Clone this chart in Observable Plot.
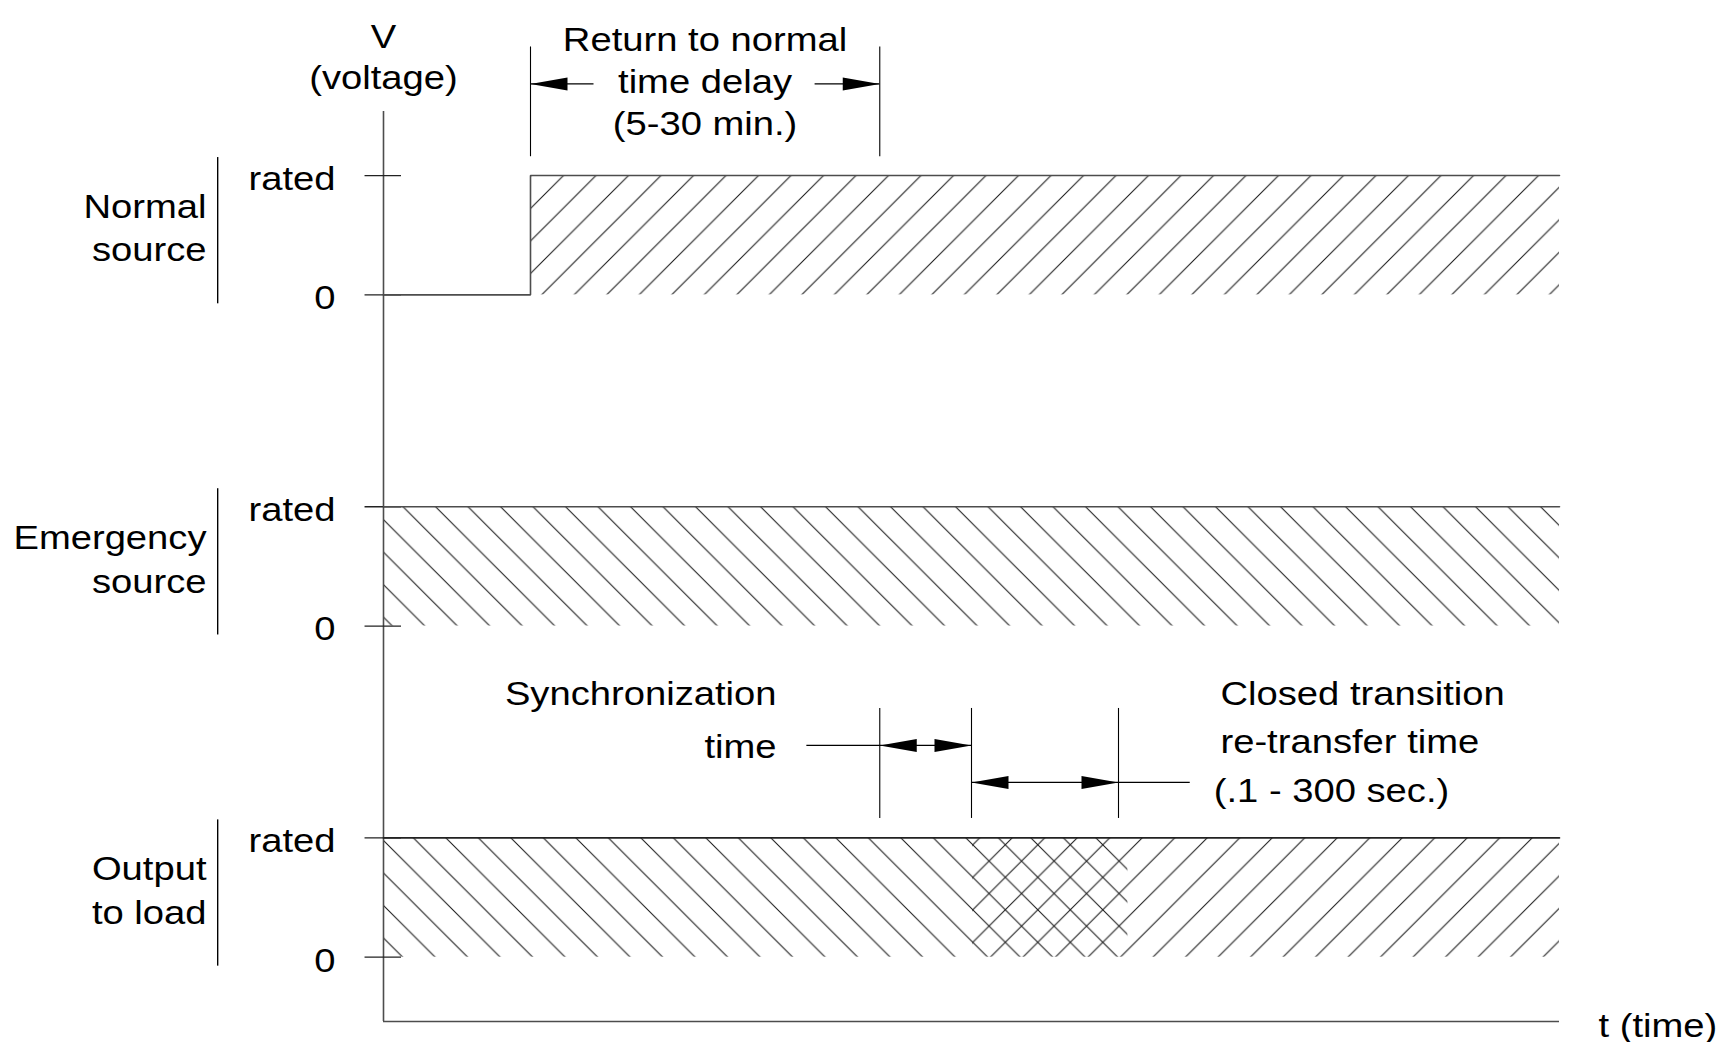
<!DOCTYPE html>
<html>
<head>
<meta charset="utf-8">
<script src="https://cdn.jsdelivr.net/npm/d3@7"></script>
<script src="https://cdn.jsdelivr.net/npm/@observablehq/plot@0.6"></script>
<style>
  html, body { margin: 0; padding: 0; background: #fff; overflow: hidden; }
  #chart svg { display: block; }
</style>
</head>
<body>
<div id="chart"></div>
<script>
// ---------------- data ----------------
const panelNames = ["Normal\nsource", "Emergency\nsource", "Output\nto load"];
const levelValues = [0, 1];            // 0 = zero volts, 1 = rated
const levelLabels = ["0", "rated"];
const voltageAxisLabel = ["V", "(voltage)"];
const timeAxisLabel = "t (time)";

// traces (time in schematic units 0–100, level 0/1)
const normalTraceT = [0, 12.5, 12.5, 100];
const normalTraceV = [0, 0, 1, 1];
const emergencyTraceT = [0, 100];
const emergencyTraceV = [1, 1];
const outputTraceT = [0, 100];
const outputTraceV = [1, 1];

// energized (hatched) intervals
const hatchPanel = [0, 1, 2, 2];
const hatchStart = [12.5, 0, 0, 50.1];
const hatchEnd = [100, 100, 63.3, 100];
const hatchDir = ["/", "\\", "\\", "/"];

// timing events
const returnDelay = [12.5, 42.2];
const syncTime = [42.2, 50];
const closedTransition = [50, 62.5];
const returnText = ["Return to normal", "time delay", "(5-30 min.)"];
const syncText = ["Synchronization", "time"];
const closedText = ["Closed transition", "re-transfer time", "(.1 - 300 sec.)"];

// ---------------- layout ----------------
const W = 1724, H = 1042;
const X_DOMAIN = [0, 100];
const Y_DOMAIN = [-0.539, 7.089];
const PANEL_GAP = 2.776;
const base = p => (2 - p) * PANEL_GAP;
const FONT = "'Liberation Sans', Arial, Helvetica, sans-serif";
const FS = 33.5;
const STRETCH = 1.14;
const TICK = [-1.57, 1.53];
const LABEL_X = -4.08;
const GROUP_X = -15.05;
const BRACKET_X = -14.1;
const HATCH_SIZE = 32.5;
const hatchPhase = [24, 26.3, 30.5, 30.1];
const HEAD_LEN = 37, HEAD_HALF = 6.5;

const headRight = { draw(ctx) { ctx.moveTo(0, 0); ctx.lineTo(-HEAD_LEN, -HEAD_HALF); ctx.lineTo(-HEAD_LEN, HEAD_HALF); ctx.closePath(); } };
const headLeft  = { draw(ctx) { ctx.moveTo(0, 0); ctx.lineTo(HEAD_LEN, -HEAD_HALF); ctx.lineTo(HEAD_LEN, HEAD_HALF); ctx.closePath(); } };

// ---------------- derived tables ----------------
const hatchRects = hatchPanel.map((p, i) => ({
  x1: hatchStart[i], x2: hatchEnd[i], y1: base(p), y2: base(p) + 1, fill: `url(#hatch${i})`
}));
const traceRows = (T, V, p) => T.map((t, i) => ({ t, v: base(p) + V[i] }));
const ticks = panelNames.flatMap((_, p) => levelValues.map(l => ({ v: base(p) + l })));
const levelText = panelNames.flatMap((_, p) => levelValues.map((l, j) => ({ v: base(p) + l - 0.12, text: levelLabels[j] })));
const groupText = panelNames.map((name, p) => ({ v: base(p) + 0.28, text: name }));
const brackets = panelNames.map((_, p) => ({ y1: base(p) - 0.075, y2: base(p) + 1.151 }));

// annotation rows
const RET_ROW = 7.32, SYNC_ROW = 1.775, CLOSED_ROW = 1.465;
const dimLines = [
  ...returnDelay.map(t => ({ t, y1: 6.71, y2: 7.63 })),
  ...[syncTime[0], syncTime[1], closedTransition[1]].map(t => ({ t, y1: 1.163, y2: 2.085 }))
];
const arrowLines = [
  { y: RET_ROW, x1: returnDelay[0], x2: 17.9 },
  { y: RET_ROW, x1: 36.7, x2: returnDelay[1] },
  { y: SYNC_ROW, x1: 36.0, x2: syncTime[1] },
  { y: CLOSED_ROW, x1: closedTransition[0], x2: 68.6 }
];
const leftHeads = [
  { t: returnDelay[0], y: RET_ROW },
  { t: syncTime[0], y: SYNC_ROW },
  { t: closedTransition[0], y: CLOSED_ROW }
];
const rightHeads = [
  { t: returnDelay[1], y: RET_ROW },
  { t: syncTime[1], y: SYNC_ROW },
  { t: closedTransition[1], y: CLOSED_ROW }
];

const retTextRows = returnText.map((text, i) => ({ x: 27.34, y: [7.597, 7.244, 6.888][i], text }));
const vTextRows = voltageAxisLabel.map((text, i) => ({ x: 0, y: [7.625, 7.28][i], text }));
const syncTextRows = syncText.map((text, i) => ({ x: 33.42, y: [2.11, 1.666][i], text }));
const closedTextRows = closedText.map((text, i) => ({ x: [71.17, 71.17, 70.6][i], y: [2.11, 1.708, 1.299][i], text }));
const tTextRows = [{ x: 103.32, y: -0.673, text: timeAxisLabel }];

const AX = "#4d4d4d", LN = "#222";
const txt = (data, anchor, extra = {}) => Plot.text(data, {
  x: "x", y: "y", text: "text", textAnchor: anchor, lineAnchor: "bottom",
  fontSize: FS, fontFamily: FONT, fill: "#000", ...extra
});

const plot = Plot.plot({
  width: W, height: H,
  marginLeft: 383, marginRight: W - 1559, marginTop: 111, marginBottom: H - 1021,
  x: { domain: X_DOMAIN, axis: null },
  y: { domain: Y_DOMAIN, axis: null },
  style: { fontFamily: FONT, background: "#fff", overflow: "visible" },
  marks: [
    ...hatchRects.map(r => Plot.rect([r], { x1: "x1", x2: "x2", y1: "y1", y2: "y2", fill: r.fill, stroke: "none" })),
    // axes
    Plot.ruleX([X_DOMAIN[0]], { y1: Y_DOMAIN[0], y2: Y_DOMAIN[1], stroke: AX, strokeWidth: 1.6 }),
    Plot.ruleY([Y_DOMAIN[0]], { x1: X_DOMAIN[0], x2: X_DOMAIN[1], stroke: AX, strokeWidth: 1.6 }),
    // level ticks
    Plot.ruleY(ticks, { y: "v", x1: TICK[0], x2: TICK[1], stroke: LN, strokeWidth: 1.3 }),
    // traces
    Plot.line(traceRows(normalTraceT, normalTraceV, 0), { x: "t", y: "v", stroke: AX, strokeWidth: 1.6, strokeLinejoin: "miter" }),
    Plot.line(traceRows(emergencyTraceT, emergencyTraceV, 1), { x: "t", y: "v", stroke: AX, strokeWidth: 1.6 }),
    Plot.line(traceRows(outputTraceT, outputTraceV, 2), { x: "t", y: "v", stroke: LN, strokeWidth: 1.6 }),
    // brackets
    Plot.ruleX(brackets, { x: () => BRACKET_X, y1: "y1", y2: "y2", stroke: "#000", strokeWidth: 1.4 }),
    // dimension lines and arrows
    Plot.ruleX(dimLines, { x: "t", y1: "y1", y2: "y2", stroke: "#000", strokeWidth: 1.1 }),
    Plot.ruleY(arrowLines, { y: "y", x1: "x1", x2: "x2", stroke: "#000", strokeWidth: 1.3 }),
    Plot.dot(leftHeads, { x: "t", y: "y", symbol: headLeft, fill: "#000", stroke: "none" }),
    Plot.dot(rightHeads, { x: "t", y: "y", symbol: headRight, fill: "#000", stroke: "none" }),
    // texts
    Plot.text(levelText, { x: () => LABEL_X, y: "v", text: "text", textAnchor: "end", lineAnchor: "bottom", fontSize: FS, fontFamily: FONT, fill: "#000" }),
    Plot.text(groupText, { x: () => GROUP_X, y: "v", text: "text", textAnchor: "end", lineAnchor: "bottom", lineHeight: 1.3, fontSize: FS, fontFamily: FONT, fill: "#000" }),
    txt(vTextRows, "middle"),
    txt(retTextRows, "middle"),
    txt(syncTextRows, "end"),
    txt(closedTextRows, "start"),
    txt(tTextRows, "start")
  ]
});

// hatch patterns
const svg = d3.select(plot);
const defs = svg.insert("defs", ":first-child");
const S = HATCH_SIZE;
hatchDir.forEach((dir, i) => {
  const p = defs.append("pattern")
    .attr("id", `hatch${i}`)
    .attr("patternUnits", "userSpaceOnUse")
    .attr("width", S).attr("height", S)
    .attr("x", hatchPhase[i]).attr("y", 0);
  const d = dir === "/"
    ? `M0,${S}L${S},0M-3,3L3,-3M${S - 3},${S + 3}L${S + 3},${S - 3}`
    : `M0,0L${S},${S}M-3,${S - 3}L3,${S + 3}M${S - 3},-3L${S + 3},3`;
  p.append("path").attr("d", d).attr("stroke", "#1a1a1a").attr("stroke-width", 1.05).attr("fill", "none");
});

// horizontally widen glyphs to match the reference lettering
svg.selectAll("text").each(function () {
  const t = this.getAttribute("transform") || "";
  this.setAttribute("transform", `${t} scale(${STRETCH},1)`);
});

document.getElementById("chart").appendChild(plot);
</script>
</body>
</html>
